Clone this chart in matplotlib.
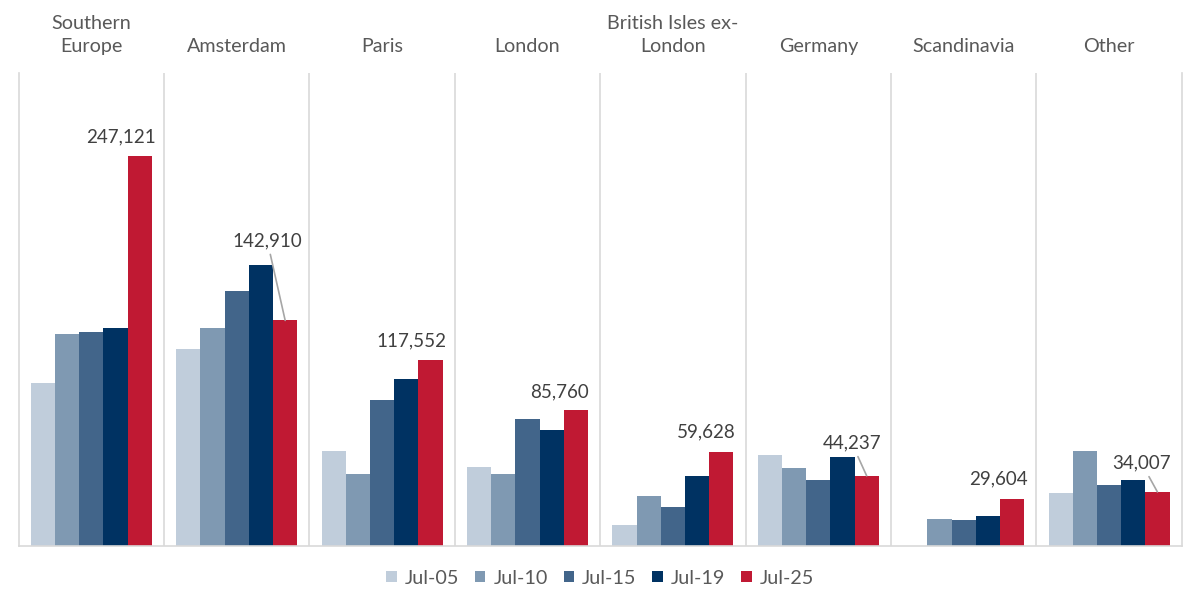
import numpy as np
import matplotlib.pyplot as plt
import matplotlib.transforms as mtransforms

# values
regions = ['Southern\nEurope', 'Amsterdam', 'Paris', 'London',
           'British Isles ex-\nLondon', 'Germany', 'Scandinavia', 'Other']
periods = ['Jul-05', 'Jul-10', 'Jul-15', 'Jul-19', 'Jul-25']

jul05 = [103400, 125000, 59900, 49600, 13100, 57600, np.nan, 33200]
jul10 = [134500, 138300, 45500, 45500, 31600, 49500, 17100, 59900]
jul15 = [135800, 161600, 92600, 80500, 24300, 41300, 16300, 38300]
jul19 = [138300, 178100, 105900, 73500, 44000, 55900, 18900, 41900]
jul25 = [247121, 142910, 117552, 85760, 59628, 44237, 29604, 34007]

series = [jul05, jul10, jul15, jul19, jul25]
colors = ['#c0cddb', '#7f99b2', '#42658a', '#003262', '#c01933']

# label offsets (pixels) for the Jul-25 values, some need a leader line
label_dx = [-19, -18, -19, -16, -15, -15, -14, -16]
label_dy = [19, 80, 19, 19, 20, 33, 20, 29]
leader = [False, True, False, False, False, True, False, True]

plt.rcParams['font.family'] = ['Lato', 'DejaVu Sans']
txt = '#595959'

fig = plt.figure(figsize=(12, 6.09), dpi=100)
ax = fig.add_axes([18.7 / 1200, 63.5 / 609, 1163 / 1200, 472.5 / 609])

x = np.arange(len(regions))
w = 0.1665
for j, (vals, c, p) in enumerate(zip(series, colors, periods)):
    ax.bar(x + (j - 2) * w, vals, w, color=c, label=p, linewidth=0)

ax.set_xlim(-0.5, len(regions) - 0.5)
ax.set_ylim(0, 300000)

for i in range(len(regions) - 1):
    ax.axvline(i + 0.5, color='#d9d9d9', lw=1.2, zorder=0)

for s in ['left', 'right', 'bottom']:
    ax.spines[s].set_color('#d9d9d9')
    ax.spines[s].set_linewidth(1.2)
ax.spines['top'].set_visible(False)
ax.set_xticks([])
ax.set_yticks([])

trans = mtransforms.blended_transform_factory(ax.transData, ax.transAxes)
for i, name in enumerate(regions):
    ax.text(i, 1.038, name, transform=trans, ha='center', va='bottom',
            fontsize=14.2, color=txt, linespacing=1.4)

for i, v in enumerate(jul25):
    bx = i + 2 * w
    props = None
    if leader[i]:
        props = dict(arrowstyle='-', color='#a6a6a6', lw=1.2,
                     shrinkA=2, shrinkB=0)
    ax.annotate(f'{v:,}', xy=(bx, v), xytext=(label_dx[i], label_dy[i]),
                textcoords='offset pixels', ha='center', va='center',
                fontsize=13.5, color='#404040', arrowprops=props)

fig.legend(loc='center', bbox_to_anchor=(0.5, 1 - 578 / 609), ncol=5,
           frameon=False, fontsize=14.2, labelcolor=txt,
           handlelength=0.55, handleheight=0.55, handletextpad=0.4,
           columnspacing=0.8)

fig.savefig('out.png', dpi=100, facecolor='white')
